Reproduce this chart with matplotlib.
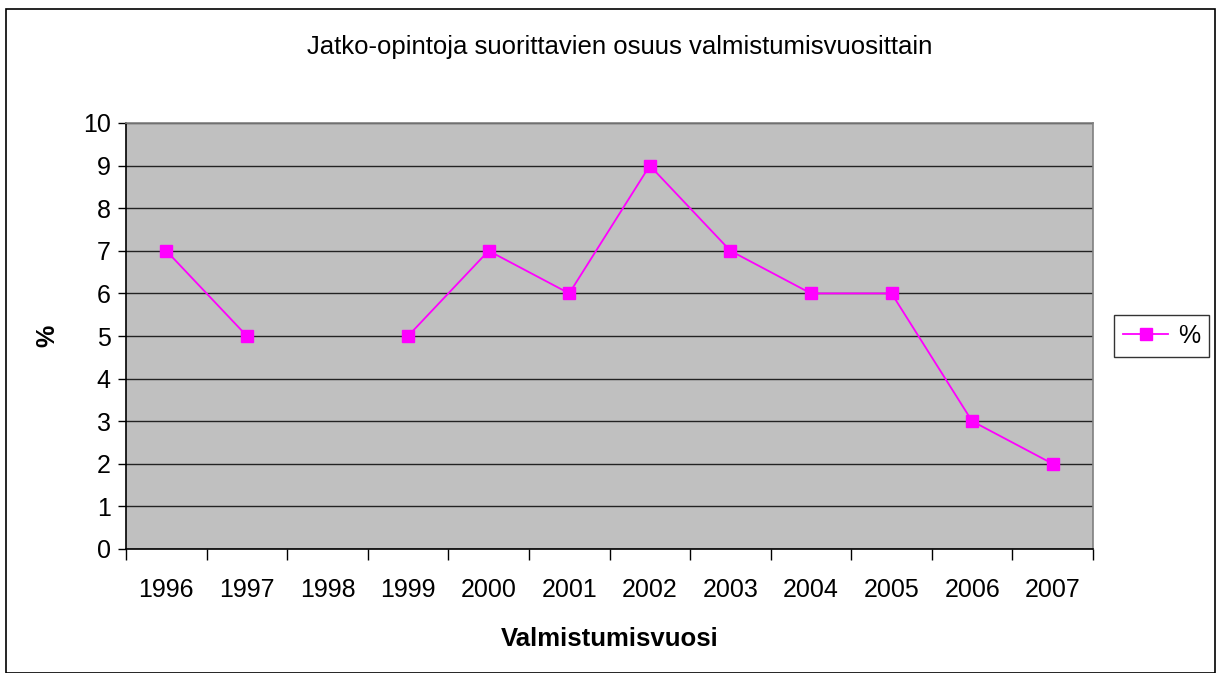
import numpy as np
import matplotlib.pyplot as plt
from matplotlib.patches import Rectangle

years = ['1996', '1997', '1998', '1999', '2000', '2001',
         '2002', '2003', '2004', '2005', '2006', '2007']
# 1998 has no value in the source chart
share = [7, 5, np.nan, 5, 7, 6, 9, 7, 6, 6, 3, 2]

plt.rcParams['font.family'] = ['Liberation Sans', 'DejaVu Sans']

fig = plt.figure(figsize=(12.17, 6.73), dpi=100)
ax = fig.add_axes([126 / 1217, 1 - 549 / 673, 967 / 1217, 426 / 673])

# outer chart border
fig.patches.append(Rectangle((6 / 1217, 0.0), 1209 / 1217, 1 - 9 / 673,
                             transform=fig.transFigure, fill=False,
                             edgecolor='black', linewidth=1.2))

ax.set_facecolor('#c0c0c0')
x = np.arange(len(years)) + 0.5
ax.plot(x, share, color='#ff00ff', linewidth=1.3, marker='s',
        markersize=8, markerfacecolor='#ff00ff', markeredgecolor='#ff00ff',
        label='%')

ax.set_xlim(0, len(years))
ax.set_ylim(0, 10)
ax.set_yticks(range(0, 11))
ax.yaxis.grid(True, color='#222222', linewidth=1.0)
ax.set_axisbelow(True)

ax.set_xticks(range(0, len(years) + 1))
ax.set_xticklabels([])
ax.set_xticks(x, minor=True)
ax.set_xticklabels(years, minor=True)
ax.tick_params(axis='x', which='major', length=8, width=1, color='black')
ax.tick_params(axis='x', which='minor', length=0, pad=21, labelsize=18)
ax.tick_params(axis='y', length=6, width=1, pad=5, labelsize=18)

for side in ['left', 'bottom']:
    ax.spines[side].set_color('black')
    ax.spines[side].set_linewidth(1.2)
for side in ['top', 'right']:
    ax.spines[side].set_color('#808080')
    ax.spines[side].set_linewidth(1.2)

ax.set_ylabel('%', fontsize=18, fontweight='bold')
ax.yaxis.set_label_coords(-0.069, 0.5)
ax.set_xlabel('Valmistumisvuosi', fontsize=18.5, fontweight='bold', labelpad=18)
fig.text(620 / 1217, 1 - 47 / 673,
         'Jatko-opintoja suorittavien osuus valmistumisvuosittain',
         ha='center', va='center', fontsize=18.5)

leg = ax.legend(loc='center left', bbox_to_anchor=(1.022, 0.5),
                frameon=True, fancybox=False, fontsize=18,
                handlelength=1.8, borderpad=0.35, handletextpad=0.4,
                borderaxespad=0)
leg.get_frame().set_edgecolor('black')
leg.get_frame().set_linewidth(1.0)

fig.savefig('out.png', dpi=100)
